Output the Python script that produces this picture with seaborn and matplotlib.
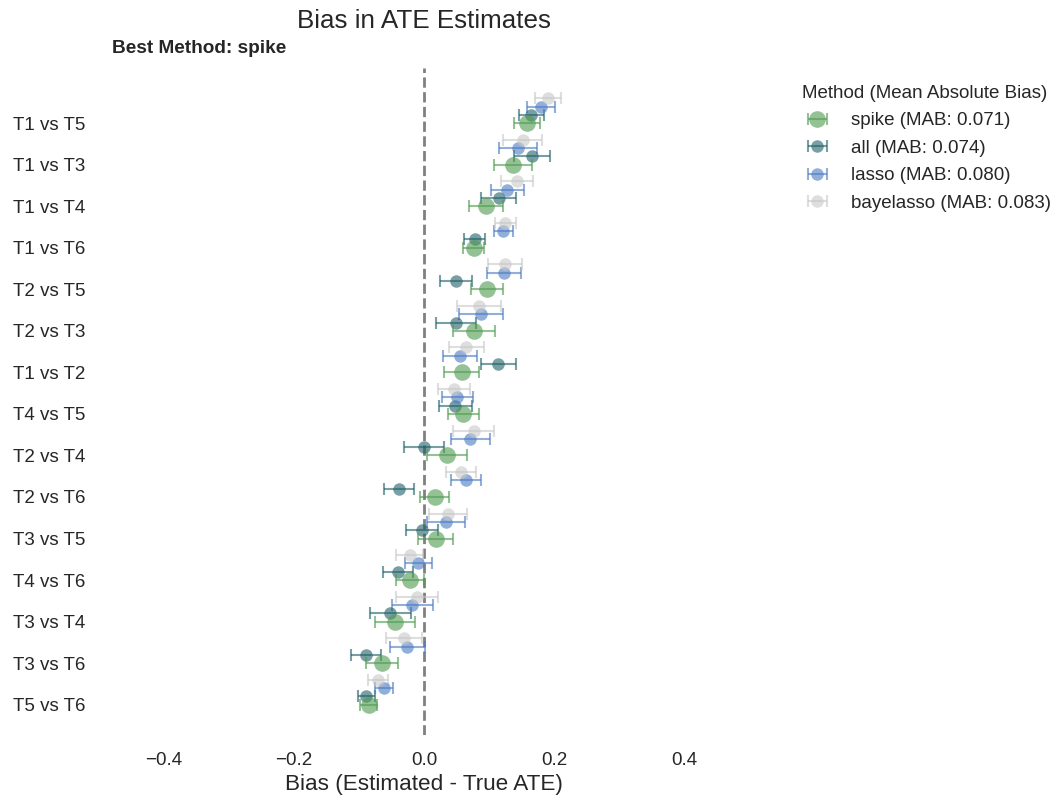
import numpy as np
import matplotlib
matplotlib.use("Agg")
import matplotlib.pyplot as plt
import seaborn as sns

# comparisons, top to bottom as shown
comparisons = ['T1 vs T5', 'T1 vs T3', 'T1 vs T4', 'T1 vs T6', 'T2 vs T5',
               'T2 vs T3', 'T1 vs T2', 'T4 vs T5', 'T2 vs T4', 'T2 vs T6',
               'T3 vs T5', 'T4 vs T6', 'T3 vs T4', 'T3 vs T6', 'T5 vs T6']

methods = ['spike', 'all', 'lasso', 'bayelasso']
mab = [0.071, 0.074, 0.080, 0.083]

# bias estimates per method (same order as comparisons)
bias_spike = [0.158, 0.137, 0.095, 0.076, 0.097, 0.077, 0.058, 0.060,
              0.035, 0.016, 0.018, -0.022, -0.045, -0.065, -0.085]
bias_all = [0.165, 0.166, 0.115, 0.078, 0.049, 0.049, 0.114, 0.048,
            0.000, -0.038, -0.003, -0.040, -0.052, -0.089, -0.089]
bias_lasso = [0.180, 0.145, 0.128, 0.122, 0.123, 0.088, 0.055, 0.051,
              0.071, 0.065, 0.034, -0.009, -0.018, -0.026, -0.062]
bias_bayelasso = [0.190, 0.152, 0.143, 0.125, 0.125, 0.085, 0.065, 0.046,
                  0.076, 0.057, 0.037, -0.022, -0.011, -0.031, -0.071]

# half widths of the error bars
se_spike = [0.020, 0.029, 0.026, 0.016, 0.025, 0.032, 0.027, 0.024,
            0.031, 0.023, 0.027, 0.022, 0.031, 0.025, 0.013]
se_all = [0.019, 0.027, 0.027, 0.016, 0.025, 0.031, 0.027, 0.025,
          0.031, 0.023, 0.025, 0.023, 0.032, 0.023, 0.013]
se_lasso = [0.021, 0.029, 0.025, 0.015, 0.026, 0.034, 0.026, 0.024,
            0.030, 0.023, 0.029, 0.021, 0.032, 0.027, 0.014]
se_bayelasso = [0.020, 0.030, 0.025, 0.016, 0.026, 0.034, 0.027, 0.025,
                0.031, 0.023, 0.029, 0.021, 0.033, 0.027, 0.015]

biases = [bias_spike, bias_all, bias_lasso, bias_bayelasso]
ses = [se_spike, se_all, se_lasso, se_bayelasso]
colors = ['#4E9A4E', '#1F5F66', '#4A7BC2', '#C8C8C8']

sns.set_theme(style="white")
plt.rcParams['font.family'] = ['Liberation Sans', 'DejaVu Sans']

fig = plt.figure(figsize=(10.55, 7.95), dpi=100)
ax = fig.add_axes([0.094, 0.0755, 0.616, 0.839])

n = len(comparisons)
y_base = np.arange(n)[::-1]

for k, m in enumerate(methods):
    ms = 12 if m == 'spike' else 9
    cont = ax.errorbar(np.array(biases[k]), y_base + 0.2 * k, xerr=np.array(ses[k]),
                       fmt='o', color=colors[k], ecolor=colors[k], alpha=0.6,
                       markersize=ms, elinewidth=1.5, capsize=4, capthick=1.5,
                       label=f'{m} (MAB: {mab[k]:.3f})',
                       zorder=4 if m == 'spike' else 3)
    # no marker outline, so the alpha looks flat like the original
    cont.lines[0].set_markeredgewidth(0)

ax.axvline(0, color='gray', linestyle='--', linewidth=2, zorder=1)

ax.set_yticks(y_base)
ax.set_yticklabels(comparisons)
ax.set_xlim(-0.5, 0.5)
ax.set_xticks([-0.4, -0.2, 0.0, 0.2, 0.4])
ax.tick_params(axis='y', length=0, pad=10, labelsize=13.5)
ax.tick_params(axis='x', length=0, pad=12, labelsize=13.5)
ax.set_xlabel('Bias (Estimated - True ATE)', fontsize=16.2, labelpad=4)
ax.set_title('Bias in ATE Estimates', fontsize=18.7, pad=29)
ax.text(0.02, 1.022, 'Best Method: spike', transform=ax.transAxes,
        fontsize=13.7, fontweight='bold', va='baseline')

sns.despine(left=True, bottom=True)

ax.legend(title='Method (Mean Absolute Bias)', bbox_to_anchor=(1.05, 1),
          loc='upper left', fontsize=13.5, title_fontsize=13.5, frameon=False,
          labelspacing=0.55)

fig.savefig('out.png', dpi=100)
